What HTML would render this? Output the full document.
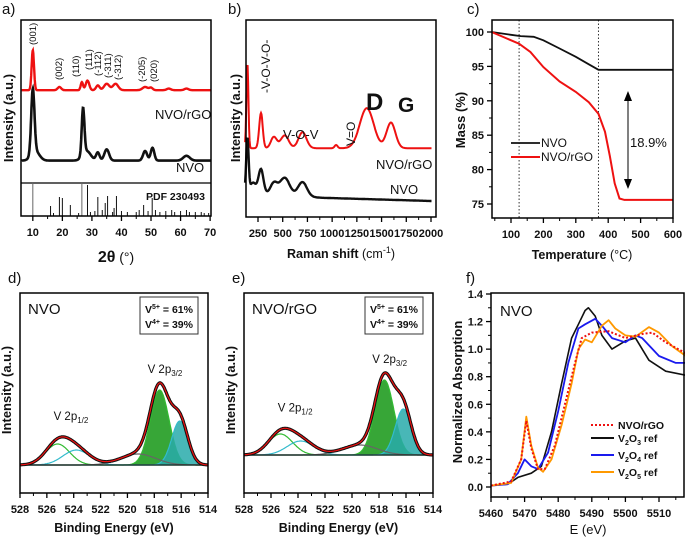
<!DOCTYPE html>
<html><head><meta charset="utf-8"><style>
html,body{margin:0;padding:0;background:#fff}
svg{display:block;font-family:"Liberation Sans",Arial,sans-serif}
.tk{font-size:11px;font-weight:bold;fill:#111}
.ax{font-size:12.5px;font-weight:bold;fill:#111}
.pl{font-size:15px;fill:#111}
</style></head><body>
<svg id="fig" width="685" height="539" viewBox="0 0 685 539"></svg>
<script>
// ---------- Data ----------
// a) XRD peaks: [2theta, height, width]
const xrdRedPeaks=[[10,25,0.4],[19,2,0.6],[26.6,5,0.4],[28.5,6,0.6],[32,3,0.6],[35,4,0.9],[38,4,0.9],[48,2,0.9],[50,1.5,0.6],[56,1,0.7],[62,1,0.7]];
const xrdRedBase=58;
const xrdBlackPeaks=[[10,40,0.55],[10.8,6,1.4],[27,29,0.45],[28.2,6,1.4],[32,5,0.6],[35,7,0.8],[48,6,0.7],[50.5,8,0.6],[62,3,1.1]];
const xrdBlackBase=14;
const pdfPos=[10,16,17,19,20,22.7,25.5,26.6,28.5,29.5,31,32,33.5,34.5,35.3,37,37.5,38.3,40,42,45,46,47.5,49,50.4,51.5,53,55,57,58,60,62,63,65,67,68,69.5];
const pdfHt=[34,10,3,19,18,11,3,34,31,4,5,19,6,13,20,4,8,20,5,4,4,6,11,5,18,6,4,5,6,4,5,6,4,4,4,3,3];
const xrdTicks=[10,20,30,40,50,60,70];
// b) Raman peaks [shift, height, width]
const ramRedPeaks=[[143,53,10],[280,22,18],[410,7,30],[520,8,40],[700,10,40],[1040,2,15],[1350,25,70],[1595,16,45]];
const ramBlackPeaks=[[143,33,12],[200,6,30],[280,15,25],[410,7,35],[520,11,50],[700,9,45]];
const ramTicks=[250,500,750,1000,1250,1500,1750,2000];
// c) TGA
const tgaT=[40,100,130,170,200,250,300,340,370,400,600];
const tgaNVO=[100,99.6,99.4,99.3,98.8,97.6,96.4,95.3,94.5,94.5,94.5];
const tgaT2=[40,80,125,160,200,250,300,340,370,390,405,420,435,450,600];
const tgaRGO=[100,99.2,98.3,97.1,94.9,92.8,91.3,89.8,88.1,85.5,82,78,75.8,75.6,75.6];
const tgaXTicks=[100,200,300,400,500,600];
const tgaYTicks=[75,80,85,90,95,100];
// d,e) XPS: components [center, height, sigma]
const xpsD_green=[[525.2,21,0.9],[517.6,75,0.7]];
const xpsD_cyan=[[523.8,15,1.0],[516.1,44,0.6]];
const xpsD_gray=[[519.2,11,1.3]];
const xpsD_bgE=[528,522,519,517,515.5,514];
const xpsD_bgV=[28,24,20,15,11,10];
const xpsE_green=[[525.3,21,0.9],[517.6,75,0.7]];
const xpsE_cyan=[[523.8,14,1.0],[516.2,46,0.6]];
const xpsE_gray=[[519.4,10,1.3]];
const xpsE_bgE=[528,522,519,517,515.5,514];
const xpsE_bgV=[38,34,30,26,22,21];
const xpsTicks=[528,526,524,522,520,518,516,514];
// f) XANES
const xE3=[5460,5465,5468,5472,5475,5478,5481,5484,5486,5488,5489,5491,5493,5496,5500,5503,5507,5512,5518];
const xV2O3=[0.01,0.02,0.07,0.1,0.15,0.4,0.75,1.08,1.18,1.28,1.3,1.24,1.1,1.0,1.06,1.08,0.92,0.84,0.81];
const xE4=[5460,5465,5468,5470,5472,5474,5477,5480,5483,5486,5488,5491,5493,5496,5500,5503,5505,5510,5515,5518];
const xV2O4=[0.01,0.02,0.1,0.2,0.15,0.13,0.25,0.55,0.9,1.15,1.18,1.22,1.17,1.08,1.05,1.1,1.08,0.95,0.9,0.9];
const xE5=[5460,5466,5469,5470.5,5472,5474,5475.5,5478,5481,5484,5486,5488,5490,5493,5495,5497,5500,5503,5507,5510,5514,5518];
const xV2O5=[0.01,0.03,0.2,0.51,0.3,0.14,0.11,0.2,0.45,0.75,1.0,1.07,1.05,1.17,1.21,1.15,1.1,1.09,1.16,1.12,1.02,0.95];
const xEN=[5460,5466,5469,5470.5,5472,5474,5476,5479,5482,5485,5487,5490,5495,5500,5505,5508,5512,5518];
const xNVO=[0.01,0.04,0.2,0.48,0.28,0.13,0.13,0.3,0.6,0.9,1.08,1.12,1.13,1.08,1.11,1.12,1.05,0.97];
const xanXTicks=[5460,5470,5480,5490,5500,5510];
const xanYTicks=[0,0.2,0.4,0.6,0.8,1.0,1.2,1.4];

// ---------- helpers ----------
const svg=document.getElementById('fig');
const NS='http://www.w3.org/2000/svg';
function el(tag,attrs,parent){const e=document.createElementNS(NS,tag);for(const k in attrs)e.setAttribute(k,attrs[k]);(parent||svg).appendChild(e);return e;}
function txt(x,y,s,cls,extra,parent){
 const a={x:x,y:y,class:cls||'tk'};let st='';
 for(const k in (extra||{})){if(k==='font-weight'||k==='font-size'){st+=k+':'+extra[k]+(k==='font-size'?'px':'')+';';}else a[k]=extra[k];}
 if(st)a.style=st;
 const t=el('text',a,parent);t.textContent=s;return t;}
function lin(d0,d1,r0,r1){return v=>r0+(v-d0)*(r1-r0)/(d1-d0);}
function path(pts){return pts.map((p,i)=>(i?'L':'M')+p[0].toFixed(1)+','+p[1].toFixed(1)).join('');}
function gsum(peaks,x){let s=0;for(const p of peaks)s+=p[1]*Math.exp(-((x-p[0])**2)/(2*p[2]*p[2]));return s;}
function interp(xs,ys,x){if(x<=xs[0])return ys[0];for(let i=1;i<xs.length;i++){if(x<=xs[i]){const t=(x-xs[i-1])/(xs[i]-xs[i-1]);return ys[i-1]+t*(ys[i]-ys[i-1]);}}return ys[ys.length-1];}
function box(x0,y0,x1,y1,name){const r=el('rect',{x:x0,y:y0,width:x1-x0,height:y1-y0,fill:'none',stroke:'#000','stroke-width':1.5});}
function xTicks(g,sx,ticks,minor,y,label){ticks.forEach(v=>{el('line',{x1:sx(v),x2:sx(v),y1:y,y2:y+5,stroke:'#000','stroke-width':1.3},g);if(label){const t=txt(sx(v),y+20,String(v),'tk',{'text-anchor':'middle'},g);}});minor.forEach(v=>el('line',{x1:sx(v),x2:sx(v),y1:y,y2:y+3,stroke:'#000','stroke-width':1},g));}
function yTicks(g,sy,ticks,minor,x,fmt){ticks.forEach(v=>{el('line',{x1:x,x2:x-5,y1:sy(v),y2:sy(v),stroke:'#000','stroke-width':1.3},g);const t=txt(x-8,sy(v)+4,fmt(v),'tk',{'text-anchor':'end'},g);});minor.forEach(v=>el('line',{x1:x,x2:x-3,y1:sy(v),y2:sy(v),stroke:'#000','stroke-width':1},g));}
function vtitle(x,y,s,g,name,size){const t=txt(x,y,s,'ax',{'text-anchor':'middle',transform:'rotate(-90 '+x+' '+y+')','font-size':size||13},g);return t;}
function group(name){const g=el('g',{});return g;}

// ---------- a) XRD ----------
(function(){
const g=group('panel-a-xrd');
const sx=lin(6,70.3,21,211), sy=v=>183-v*1.6;
txt(2,14,'a)','pl',{},g);
box(21,20,211,216,'plot-frame-a');
el('line',{x1:21,x2:211,y1:183,y2:183,stroke:'#000','stroke-width':1.3},g);
let pr=[],pb=[];
for(let t=6.2;t<=70.2;t+=0.12){pr.push([sx(t),sy(xrdRedBase+gsum(xrdRedPeaks,t))]);pb.push([sx(t),sy(xrdBlackBase+gsum(xrdBlackPeaks,t))]);}
const r=el('path',{d:path(pr),fill:'none',stroke:'#ee1111','stroke-width':2.4},g);
const b=el('path',{d:path(pb),fill:'none',stroke:'#111','stroke-width':2.6},g);
pdfPos.forEach((p,i)=>{const l=el('line',{x1:sx(p),x2:sx(p),y1:216,y2:216-pdfHt[i],stroke:i==0||i==7?'#666':'#111','stroke-width':1},g);});
txt(146,200,'PDF 230493','tk',{'font-size':10.5},g);
txt(155,119,'NVO/rGO','ax',{'font-weight':'normal','font-size':13},g);
txt(176,172,'NVO','ax',{'font-weight':'normal','font-size':13},g);
const hk=[['(001)',33,45],['(002)',59,80],['(110)',76,77],['(111)',89,70],['(-112)',98,76],['(-311)',108,78],['(-312)',118,80],['(-205)',142,82],['(020)',154,82]];
hk.forEach(h=>{const t=txt(h[1]+3,h[2],h[0],'tk',{'font-weight':'normal','font-size':9.5,transform:'rotate(-90 '+(h[1]+3)+' '+h[2]+')'},g);});
xTicks(g,sx,xrdTicks,[15,25,35,45,55,65],216,true);
vtitle(13,118,'Intensity (a.u.)',g,'y-axis-title-a');
const xt=txt(116,262,'','ax',{'text-anchor':'middle','font-size':14},g);xt.innerHTML='<tspan style="font-size:16px">2θ</tspan><tspan style="font-weight:normal"> (°)</tspan>';
})();

// ---------- b) Raman ----------
(function(){
const g=group('panel-b-raman');
const sx=lin(250,2000,258,431), sy=v=>217-v*1.6;
txt(228,14,'b)','pl',{},g);
box(246,20,436,217,'plot-frame-b');
let pr=[],pb=[];
for(let t=120;t<=2005;t+=5){pr.push([sx(t),sy(43+gsum(ramRedPeaks,t))]);pb.push([sx(t),sy(interp([120,400,900,2005],[16,14,12,10],t)+gsum(ramBlackPeaks,t))]);}
const r=el('path',{d:path(pr),fill:'none',stroke:'#ee1111','stroke-width':2},g);
const b=el('path',{d:path(pb),fill:'none',stroke:'#111','stroke-width':2.4},g);
xTicks(g,sx,ramTicks,[375,625,875,1125,1375,1625,1875],217,true);
txt(270,93,'-V-O-V-O-','ax',{'font-weight':'normal','font-size':12,transform:'rotate(-90 270 93)'},g);
txt(283,139,'V-O-V','ax',{'font-weight':'normal','font-size':13},g);
txt(355,146,'V=O','ax',{'font-weight':'normal','font-size':12,transform:'rotate(-90 355 146)'},g);
txt(366,110,'D','ax',{'font-size':24},g);
txt(398,112,'G','ax',{'font-size':21},g);
txt(376,169,'NVO/rGO','ax',{'font-weight':'normal','font-size':13},g);
txt(390,194,'NVO','ax',{'font-weight':'normal','font-size':13},g);
vtitle(240,118,'Intensity (a.u.)',g,'y-axis-title-b');
const xt=txt(341,258,'','ax',{'text-anchor':'middle'},g);xt.innerHTML='Raman shift <tspan style="font-weight:normal">(cm</tspan><tspan style="font-weight:normal;font-size:9px" dy="-5">-1</tspan><tspan style="font-weight:normal" dy="5">)</tspan>';
})();

// ---------- c) TGA ----------
(function(){
const g=group('panel-c-tga');
const sx=lin(100,600,511,673), sy=lin(100,75,32,204);
txt(467,14,'c)','pl',{},g);
box(492,20,673,218,'plot-frame-c');
[125,370].forEach(v=>el('line',{x1:sx(v),x2:sx(v),y1:20,y2:218,stroke:'#333','stroke-width':1,'stroke-dasharray':'1.5,2'},g));
const a=el('path',{d:path(tgaT.map((t,i)=>[sx(t),sy(tgaNVO[i])])),fill:'none',stroke:'#111','stroke-width':1.8},g);
const b=el('path',{d:path(tgaT2.map((t,i)=>[sx(t),sy(tgaRGO[i])])),fill:'none',stroke:'#ee1111','stroke-width':2},g);
xTicks(g,sx,tgaXTicks,[50,150,250,350,450,550],218,true);
yTicks(g,sy,tgaYTicks,[77.5,82.5,87.5,92.5,97.5],492,v=>String(v));
el('line',{x1:628,x2:628,y1:98,y2:182,stroke:'#000','stroke-width':1},g);
el('polygon',{points:'628,91 624,101 632,101',fill:'#000'},g);
el('polygon',{points:'628,189 624,179 632,179',fill:'#000'},g);
txt(630,147,'18.9%','ax',{'font-weight':'normal','font-size':13},g);
el('line',{x1:511,x2:540,y1:143,y2:143,stroke:'#111','stroke-width':1.8},g);
el('line',{x1:511,x2:540,y1:157,y2:157,stroke:'#ee1111','stroke-width':2},g);
txt(541,147,'NVO','ax',{'font-weight':'normal','font-size':12},g);
txt(541,161,'NVO/rGO','ax',{'font-weight':'normal','font-size':12},g);
vtitle(465,120,'Mass (%)',g,'y-axis-title-c');
const xt=txt(582,259,'','ax',{'text-anchor':'middle'},g);xt.innerHTML='Temperature <tspan style="font-weight:normal">(°C)</tspan>';
})();

// ---------- d,e) XPS ----------
function xps(name,lab,lx,x0,x1,green,cyan,gray,bgE,bgV,title){
const g=group(name);
const sx=lin(528,514,x0,x1), sy=v=>493-v;
txt(lx,283,lab,'pl',{},g);
const bg=e=>interp(bgE,bgV,e);
const comps=[[green,'rgba(20,150,20,0.85)','#33bb33'],[cyan,'rgba(40,170,170,0.85)','#33bbcc'],[gray,'none','#666']];
comps.forEach(c=>{c[0].forEach(p=>{let pts=[];for(let e=528;e>=514;e-=0.05)pts.push([sx(e),sy(bg(e)+gsum([p],e))]);
 const d=path(pts);
 if(c[1]!='none'&&p[1]>30){let lo=p[0]-3*p[2],hi=p[0]+3*p[2];let fp=[];for(let e=hi;e>=lo;e-=0.05)fp.push([sx(e),sy(bg(e)+gsum([p],e))]);for(let e=lo;e<=hi;e+=0.05)fp.push([sx(e),sy(bg(e))]);
  const f=el('path',{d:path(fp)+'Z',fill:c[1],stroke:'none'},g);}
 const l=el('path',{d:d,fill:'none',stroke:c[2],'stroke-width':1.2},g);});});
let bp=[];for(let e=528;e>=514;e-=0.1)bp.push([sx(e),sy(bg(e))]);
el('path',{d:path(bp),fill:'none',stroke:'#222','stroke-width':1.2},g);
const all=green.concat(cyan,gray);let ep=[];for(let e=528;e>=514;e-=0.05)ep.push([sx(e),sy(bg(e)+gsum(all,e))]);
const ex=el('path',{d:path(ep),fill:'none',stroke:'#111','stroke-width':3.2},g);
const fit=el('path',{d:path(ep),fill:'none',stroke:'#ee1111','stroke-width':1.2},g);
box(x0,293,x1,493,'plot-frame');
xTicks(g,sx,xpsTicks,[527,525,523,521,519,517,515],493,true);
el('rect',{x:x1-68,y:297,width:58,height:37,fill:'#fff',stroke:'#333','stroke-width':1},g);
const t1=txt(x1-63,313,'','tk',{'font-size':10.5},g);t1.innerHTML='V<tspan style="font-size:7px" dy="-4">5+</tspan><tspan dy="4"> = 61%</tspan>';
const t2=txt(x1-63,328,'','tk',{'font-size':10.5},g);t2.innerHTML='V<tspan style="font-size:7px" dy="-4">4+</tspan><tspan dy="4"> = 39%</tspan>';
txt(x0+8,314,title,'ax',{'font-weight':'normal','font-size':15},g);
const a1=txt(sx(525.5),sy(bg(525)+gsum(all,525))-17,'','ax',{'font-weight':'normal','font-size':11.5},g);a1.innerHTML='V 2p<tspan style="font-size:8px" dy="3">1/2</tspan>';
const a2=txt(sx(518.5),sy(bg(517.6)+gsum(all,517.6))-10,'','ax',{'font-weight':'normal','font-size':11.5},g);a2.innerHTML='V 2p<tspan style="font-size:8px" dy="3">3/2</tspan>';
vtitle(x0-9,390,'Intensity (a.u.)',g,'y-axis-title');
const xt=txt((x0+x1)/2,532,'Binding Energy (eV)','ax',{'text-anchor':'middle'},g);
}
xps('panel-d-xps-nvo','d)',8,20,208,xpsD_green,xpsD_cyan,xpsD_gray,xpsD_bgE,xpsD_bgV,'NVO');
xps('panel-e-xps-nvo-rgo','e)',232,244,433,xpsE_green,xpsE_cyan,xpsE_gray,xpsE_bgE,xpsE_bgV,'NVO/rGO');

// ---------- f) XANES ----------
(function(){
const g=group('panel-f-xanes');
const sx=lin(5460,5510,491,659), sy=lin(0,1.4,487,294);
txt(466,283,'f)','pl',{},g);
const ser=[[xE3,xV2O3,'#111',1.6,'','xanes-v2o3-line'],[xE4,xV2O4,'#1a1aee',1.8,'','xanes-v2o4-line'],[xE5,xV2O5,'#ff9900',1.8,'','xanes-v2o5-line'],[xEN,xNVO,'#ee1111',2,'2,2','xanes-nvo-rgo-line']];
ser.forEach(s=>{const p=el('path',{d:path(s[0].map((e,i)=>[sx(e),sy(s[1][i])])),fill:'none',stroke:s[2],'stroke-width':s[3],'stroke-dasharray':s[4],'stroke-linejoin':'round'},g);});
box(491,293,684,497,'plot-frame-f');
xTicks(g,sx,xanXTicks,[5465,5475,5485,5495,5505,5515],497,true);
yTicks(g,sy,xanYTicks,[0.1,0.3,0.5,0.7,0.9,1.1,1.3],491,v=>v.toFixed(1));
txt(500,316,'NVO','ax',{'font-weight':'normal','font-size':15},g);
const leg=[[425,'#ee1111','2,2','NVO/rGO',''],[438,'#111','','V','3'],[455,'#1a1aee','','V','4'],[472,'#ff9900','','V','5']];
leg.forEach(l=>{el('line',{x1:591,x2:614,y1:l[0],y2:l[0],stroke:l[1],'stroke-width':2,'stroke-dasharray':l[2]},g);
 const t=txt(618,l[0]+4,'','tk',{'font-size':10.5},g);
 t.innerHTML=l[4]?'V<tspan style="font-size:7px" dy="3">2</tspan><tspan dy="-3">O</tspan><tspan style="font-size:7px" dy="3">'+l[4]+'</tspan><tspan dy="-3"> ref</tspan>':l[3];
 });
vtitle(462,392,'Normalized Absorption',g,'y-axis-title-f');
const xt=txt(588,534,'E (eV)','ax',{'text-anchor':'middle','font-weight':'normal','font-size':13},g);
})();
</script>
</body></html>
